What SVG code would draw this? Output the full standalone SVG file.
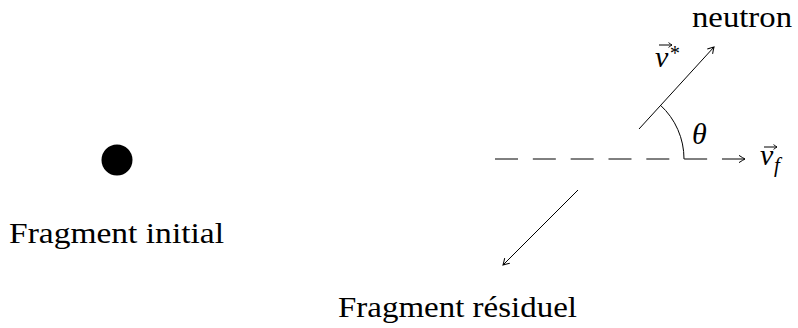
<svg xmlns="http://www.w3.org/2000/svg" width="798" height="328" viewBox="0 0 798 328">
<defs>
<style>
text{font-family:'Liberation Serif','Times New Roman',Times,serif;fill:#000}
.m{font-style:italic}
.ln{stroke:#000;stroke-width:1;fill:none}
</style>
<marker id="to" markerUnits="userSpaceOnUse" markerWidth="12" markerHeight="12" viewBox="-7 -6 8 12" refX="0" refY="0" orient="auto">
<path d="M -6 -3.6 Q -1.8 -0.9 0 0 Q -1.8 0.9 -6 3.6" stroke="#000" stroke-width="1" fill="none"/>
</marker>
<marker id="vec" markerUnits="userSpaceOnUse" markerWidth="8" markerHeight="8" viewBox="-5 -4 6 8" refX="0" refY="0" orient="auto">
<path d="M -3.5 -2.4 Q -1 -0.6 0 0 Q -1 0.6 -3.5 2.4" stroke="#000" stroke-width="0.9" fill="none"/>
</marker>
</defs>
<rect width="798" height="328" fill="#fff"/>
<g id="initial">
<circle cx="117" cy="160" r="15.5" fill="#000"/>
<text font-family="Liberation Serif, serif" x="9" y="243" font-size="30" textLength="215" lengthAdjust="spacingAndGlyphs">Fragment initial</text>
</g>
<g id="residuel">
<text font-family="Liberation Serif, serif" x="338" y="317" font-size="30" textLength="239" lengthAdjust="spacingAndGlyphs">Fragment résiduel</text>
</g>
<g id="neutron">
<text font-family="Liberation Serif, serif" x="692" y="27" font-size="30" textLength="100" lengthAdjust="spacingAndGlyphs">neutron</text>
</g>
<g id="connectors">
<line class="ln" x1="495" y1="159" x2="745" y2="159" stroke-dasharray="23 14.83" marker-end="url(#to)"/>
<line class="ln" x1="639" y1="129" x2="714" y2="47" marker-end="url(#to)"/>
<line class="ln" x1="578" y1="190" x2="503" y2="265" marker-end="url(#to)"/>
<path class="ln" d="M 684 159 A 73 73 0 0 0 660.3 105.1"/>
</g>
<g id="labels">
<text class="m" font-family="Liberation Serif, serif" x="692" y="144" font-size="30">θ</text>
<text class="m" font-family="Liberation Serif, serif" x="655" y="67" font-size="30">v</text>
<text class="m" font-family="Liberation Serif, serif" x="669" y="60" font-size="20">*</text>
<line class="ln" x1="659" y1="45" x2="672" y2="45" stroke-width="0.9" marker-end="url(#vec)"/>
<text class="m" font-family="Liberation Serif, serif" x="760" y="165" font-size="30">v</text>
<text class="m" font-family="Liberation Serif, serif" x="774" y="172" font-size="21">f</text>
<line class="ln" x1="764" y1="147" x2="777" y2="147" stroke-width="0.9" marker-end="url(#vec)"/>
</g>
</svg>
